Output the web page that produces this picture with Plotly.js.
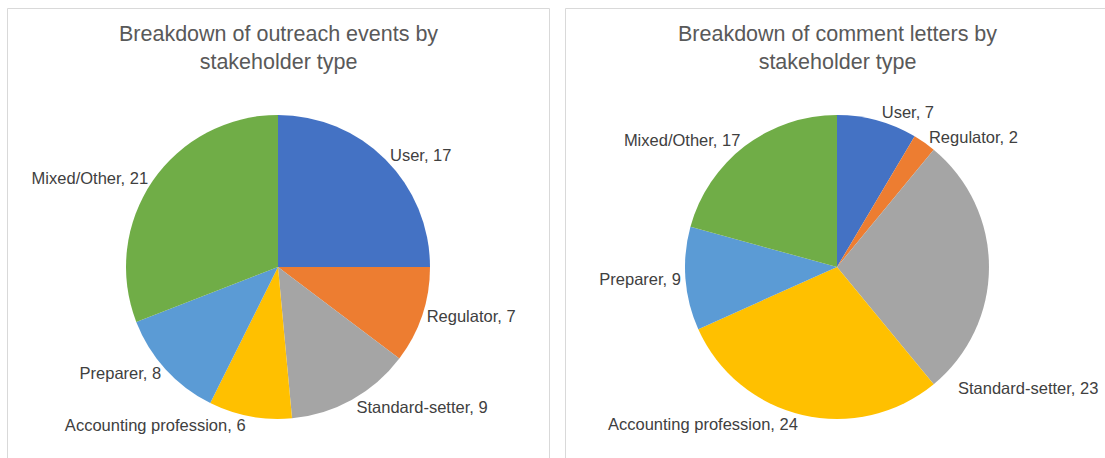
<!DOCTYPE html>
<html>
<head>
<meta charset="utf-8">
<script src="https://cdn.plot.ly/plotly-3.0.1.min.js"></script>
<style>html,body{margin:0;padding:0;background:#fff;}#chart{width:1105px;height:458px;}</style>
</head>
<body>
<div id="chart"></div>
<script>
const categories = ["User", "Regulator", "Standard-setter", "Accounting profession", "Preparer", "Mixed/Other"];
const outreachEvents = [17, 7, 9, 6, 8, 21];
const commentLetters = [7, 2, 23, 24, 9, 17];
const sliceColors = ["#4472C4", "#ED7D31", "#A5A5A5", "#FFC000", "#5B9BD5", "#70AD47"];
const titleLeft = "Breakdown of outreach events by<br>stakeholder type";
const titleRight = "Breakdown of comment letters by<br>stakeholder type";

const W = 1105, H = 458;
const LABEL_FONT = { family: "Liberation Sans, Arial, sans-serif", size: 16.5, color: "#404040" };

function labelsFor(vals, skip) {
  return categories.map((c, i) => (i === skip ? "" : c + ", " + vals[i]));
}

function pieTrace(vals, domain, skip) {
  return {
    type: "pie",
    labels: categories,
    values: vals,
    text: labelsFor(vals, skip),
    textinfo: "text",
    textposition: "outside",
    hoverinfo: "label+value",
    sort: false,
    direction: "clockwise",
    rotation: 0,
    marker: { colors: sliceColors, line: { width: 0 } },
    outsidetextfont: LABEL_FONT,
    domain: domain,
    showlegend: false
  };
}

// The right chart's "Standard-setter" label is placed below-right of its slice (as in the reference)
const movedIdx = categories.indexOf("Standard-setter");

const data = [
  pieTrace(outreachEvents, { x: [126 / W, 430 / W], y: [1 - 419 / H, 1 - 115 / H] }, -1),
  pieTrace(commentLetters, { x: [685 / W, 989 / W], y: [1 - 419 / H, 1 - 115 / H] }, movedIdx)
];

const layout = {
  width: W, height: H,
  margin: { l: 0, r: 0, t: 0, b: 0 },
  paper_bgcolor: "#ffffff",
  font: { family: "Liberation Sans, Arial, sans-serif", color: "#595959" },
  shapes: [
    { type: "rect", xref: "paper", yref: "paper", x0: 7.5 / W, x1: 549.5 / W, y0: -0.05, y1: 1 - 8.5 / H, line: { color: "#D9D9D9", width: 1 }, fillcolor: "rgba(0,0,0,0)" },
    { type: "rect", xref: "paper", yref: "paper", x0: 565.5 / W, x1: 1.05, y0: -0.05, y1: 1 - 8.5 / H, line: { color: "#D9D9D9", width: 1 }, fillcolor: "rgba(0,0,0,0)" }
  ],
  annotations: [
    { text: titleLeft, xref: "paper", yref: "paper", x: 278 / W, y: 1 - 20 / H, xanchor: "center", yanchor: "top", showarrow: false, font: { size: 21.5, color: "#595959" } },
    { text: titleRight, xref: "paper", yref: "paper", x: 837 / W, y: 1 - 20 / H, xanchor: "center", yanchor: "top", showarrow: false, font: { size: 21.5, color: "#595959" } },
    { text: categories[movedIdx] + ", " + commentLetters[movedIdx], xref: "paper", yref: "paper", x: 1100 / W, y: 1 - 388 / H, xanchor: "right", yanchor: "middle", showarrow: false, font: LABEL_FONT }
  ]
};

Plotly.newPlot("chart", data, layout, { displayModeBar: false, staticPlot: true });
</script>
</body>
</html>
